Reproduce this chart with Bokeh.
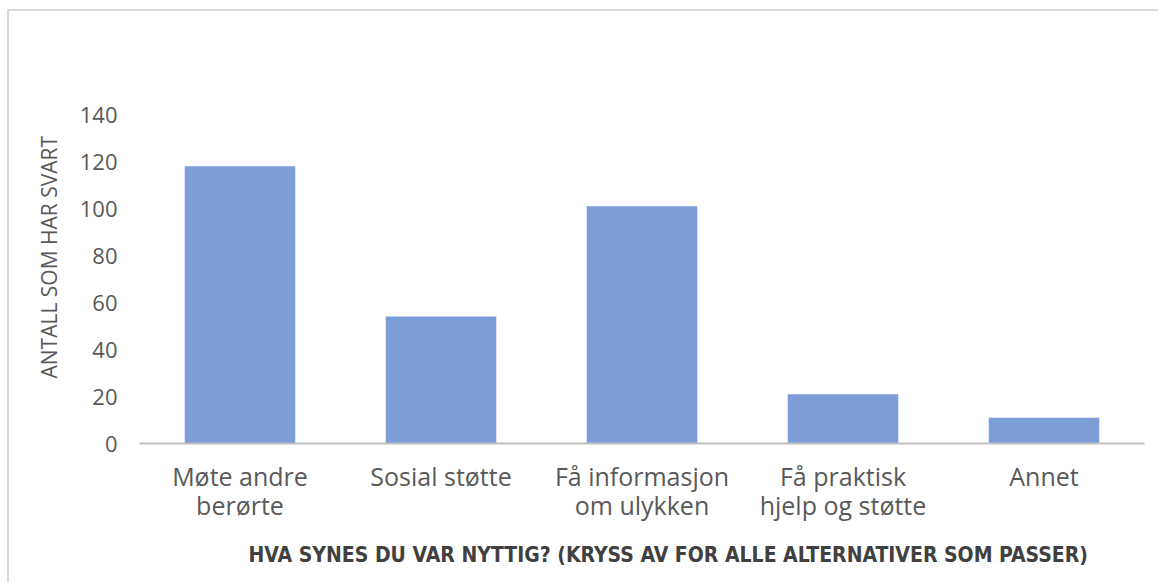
from bokeh.plotting import figure
from bokeh.models import FactorRange, Range1d, FixedTicker, Title, ColumnDataSource
from bokeh.embed import file_html
from bokeh.resources import INLINE

categories = ["Møte andre\nberørte", "Sosial støtte", "Få informasjon\nom ulykken",
              "Få praktisk\nhjelp og støtte", "Annet"]
counts = [118, 54, 101, 21, 11]
y_ticks = [0, 20, 40, 60, 80, 100, 120, 140]
y_title = "ANTALL SOM HAR SVART"
x_title = "HVA SYNES DU VAR NYTTIG? (KRYSS AV FOR ALLE ALTERNATIVER SOM PASSER)"

FONT = "Open Sans"

src = ColumnDataSource(dict(cat=categories, n=counts))

p = figure(x_range=FactorRange(*categories, range_padding=0),
           y_range=Range1d(0, 140),
           width=1158, height=582, output_backend="svg", toolbar_location=None,
           min_border_left=139, min_border_right=14, min_border_top=114, min_border_bottom=138)
p.border_fill_color = None
p.background_fill_color = "white"
p.styles = {"background": "linear-gradient(#d9d9d9,#d9d9d9) 7px 9px / 1160px 2px no-repeat, "
                          "linear-gradient(#d9d9d9,#d9d9d9) 7px 9px / 2px 600px no-repeat, white"}

p.vbar(x="cat", top="n", width=0.55, source=src, fill_color="#7c9dd6", line_color=None)

p.outline_line_color = None
p.grid.grid_line_color = None

p.yaxis.ticker = FixedTicker(ticks=y_ticks)
p.yaxis.axis_line_color = None
p.yaxis.major_tick_line_color = None
p.yaxis.minor_tick_line_color = None
p.yaxis.major_tick_out = 0
p.yaxis.major_label_standoff = 22
p.yaxis.major_label_text_font = FONT
p.yaxis.major_label_text_font_size = "22px"
p.yaxis.major_label_text_color = "#595959"

p.xaxis.axis_line_color = "#c0c0c0"
p.xaxis.axis_line_width = 2
p.xaxis.major_tick_line_color = None
p.xaxis.minor_tick_line_color = None
p.xaxis.major_tick_out = 0
p.xaxis.major_label_standoff = 15
p.xaxis.major_label_text_font = FONT
p.xaxis.major_label_text_font_size = "25px"
p.xaxis.major_label_text_color = "#595959"
p.xaxis.major_label_text_line_height = 0.88

yt = Title(text=y_title, align="left", offset=65,
           text_font=FONT, text_font_size="21px", text_font_style="normal", text_color="#595959")
xt = Title(text=x_title, align="left", offset=109, vertical_align="bottom",
           text_font="DejaVu Sans Condensed", text_font_size="21px",
           text_font_style="bold", text_color="#404040")
if "standoff" in Title.properties():
    yt.standoff = 28
    xt.standoff = 31
p.add_layout(yt, "left")
p.add_layout(xt, "below")

open("out.html", "w").write(file_html(p, INLINE))
